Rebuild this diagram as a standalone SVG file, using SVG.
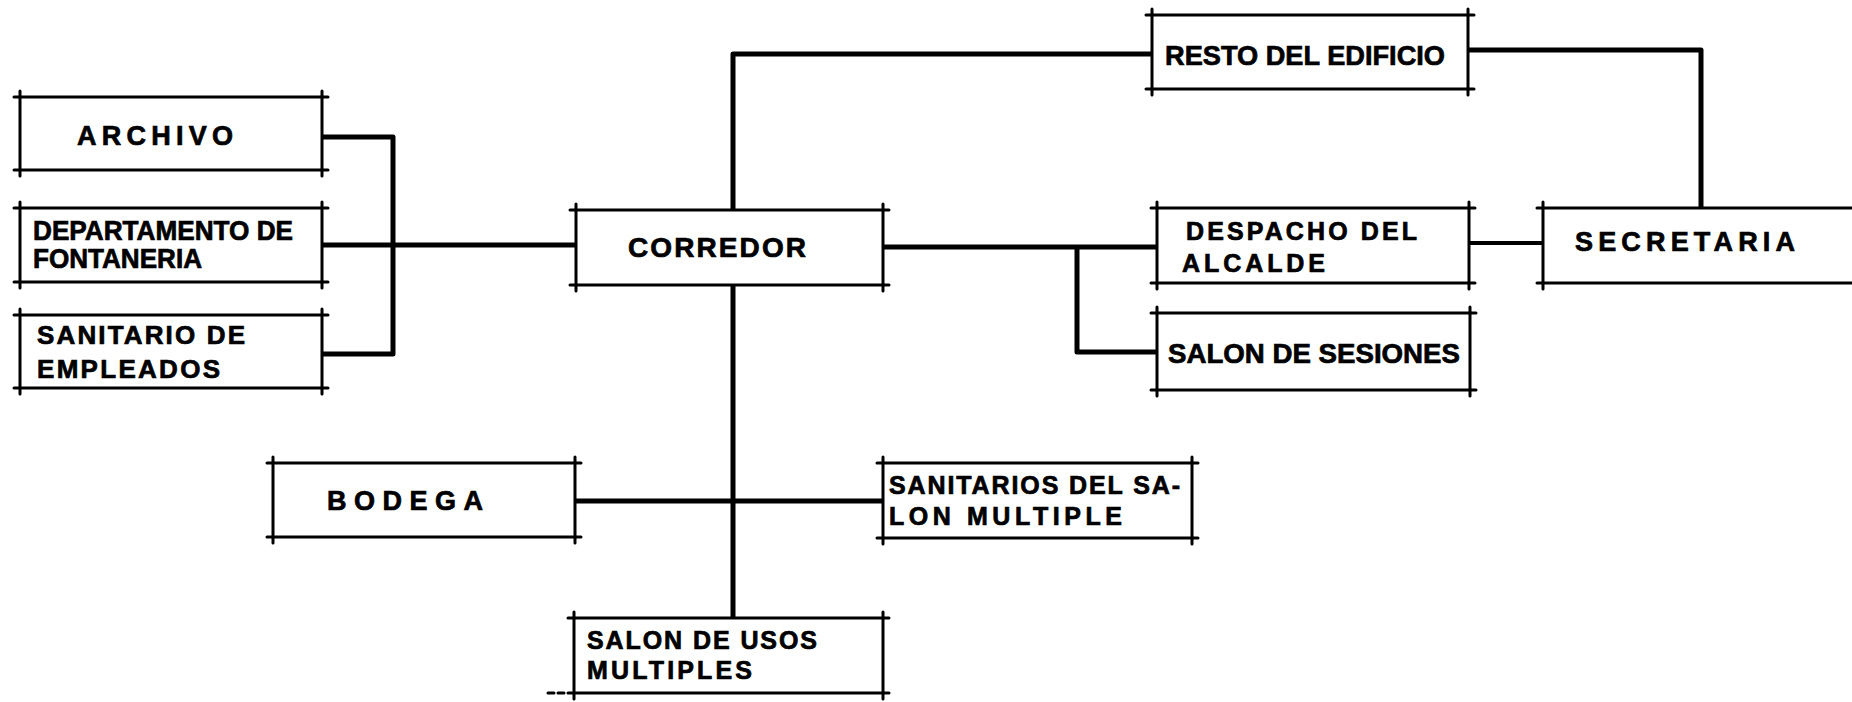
<svg xmlns="http://www.w3.org/2000/svg" width="1852" height="702" viewBox="0 0 1852 702">
<style>
.box{fill:none;stroke:#000;stroke-width:3;stroke-linecap:round}
.con{fill:none;stroke:#000;stroke-width:5;stroke-linejoin:round}
.t{font-family:"Liberation Sans",Arial,sans-serif;font-weight:bold;fill:#000;stroke:#000;stroke-width:0.7}
</style>
<rect width="1852" height="702" fill="#fff"/>
<g id="connectors">
<path class="con" d="M322,137 H393 V354 H322"/>
<path class="con" d="M322,245 H576"/>
<path class="con" d="M733,210 V54 H1152"/>
<path class="con" d="M1468,50 H1701 V208"/>
<path class="con" d="M883,247 H1157"/>
<path class="con" d="M1077,247 V352 H1157"/>
<path class="con" style="stroke-width:4" d="M1469,243 H1543"/>
<path class="con" d="M733,285 V618"/>
<path class="con" d="M575,501 H883"/>
</g>
<g id="archivo">
<path class="box" d="M14,97 H328 M14,170 H328 M20,91 V176 M322,91 V176"/>
<text class="t" x="77" y="145" font-size="27" textLength="156" lengthAdjust="spacing">ARCHIVO</text>
</g>
<g id="departamento">
<path class="box" d="M14,208 H328 M14,282 H328 M20,202 V288 M322,202 V288"/>
<text class="t" x="33" y="240" font-size="27" textLength="260" lengthAdjust="spacingAndGlyphs">DEPARTAMENTO DE</text>
<text class="t" x="33" y="268" font-size="27" textLength="169" lengthAdjust="spacingAndGlyphs">FONTANERIA</text>
</g>
<g id="sanitario-empleados">
<path class="box" d="M14,315 H328 M14,388 H328 M20,309 V394 M322,309 V394"/>
<text class="t" x="37" y="344" font-size="26" textLength="208" lengthAdjust="spacing">SANITARIO DE</text>
<text class="t" x="37" y="378" font-size="26" textLength="183" lengthAdjust="spacing">EMPLEADOS</text>
</g>
<g id="corredor">
<path class="box" d="M570,210 H889 M570,285 H889 M576,204 V291 M883,204 V291"/>
<text class="t" x="628" y="257" font-size="28" textLength="178" lengthAdjust="spacing">CORREDOR</text>
</g>
<g id="resto">
<path class="box" d="M1146,15 H1474 M1146,89 H1474 M1152,9 V95 M1468,9 V95"/>
<text class="t" x="1165" y="65" font-size="28" textLength="280" lengthAdjust="spacingAndGlyphs">RESTO DEL EDIFICIO</text>
</g>
<g id="despacho">
<path class="box" d="M1151,208 H1475 M1151,283 H1475 M1157,202 V289 M1469,202 V289"/>
<text class="t" x="1186" y="240" font-size="25" textLength="231" lengthAdjust="spacing">DESPACHO DEL</text>
<text class="t" x="1182" y="272" font-size="25" textLength="143" lengthAdjust="spacing">ALCALDE</text>
</g>
<g id="secretaria">
<path class="box" d="M1537,208 H1860 M1537,283 H1860 M1543,202 V289"/>
<text class="t" x="1575" y="251" font-size="27" textLength="220" lengthAdjust="spacing">SECRETARIA</text>
</g>
<g id="salon-sesiones">
<path class="box" d="M1151,313 H1476 M1151,390 H1476 M1157,307 V396 M1470,307 V396"/>
<text class="t" x="1168" y="363" font-size="28" textLength="292" lengthAdjust="spacingAndGlyphs">SALON DE SESIONES</text>
</g>
<g id="bodega">
<path class="box" d="M267,463 H581 M267,537 H581 M273,457 V543 M575,457 V543"/>
<text class="t" x="327" y="510" font-size="27" textLength="156" lengthAdjust="spacing">BODEGA</text>
</g>
<g id="sanitarios-salon">
<path class="box" d="M877,463 H1198 M877,538 H1198 M883,457 V544 M1192,457 V544"/>
<text class="t" x="889" y="494" font-size="25" textLength="291" lengthAdjust="spacing">SANITARIOS DEL SA-</text>
<text class="t" x="889" y="525" font-size="25" textLength="233" lengthAdjust="spacing">LON MULTIPLE</text>
</g>
<g id="salon-usos">
<path class="box" d="M568,618 H889 M568,693 H889 M574,612 V699 M883,612 V699"/>
<path class="box" stroke-dasharray="6 4" d="M548,693 H566"/>
<text class="t" x="587" y="649" font-size="25" textLength="230" lengthAdjust="spacing">SALON DE USOS</text>
<text class="t" x="587" y="679" font-size="25" textLength="165" lengthAdjust="spacing">MULTIPLES</text>
</g>
</svg>
